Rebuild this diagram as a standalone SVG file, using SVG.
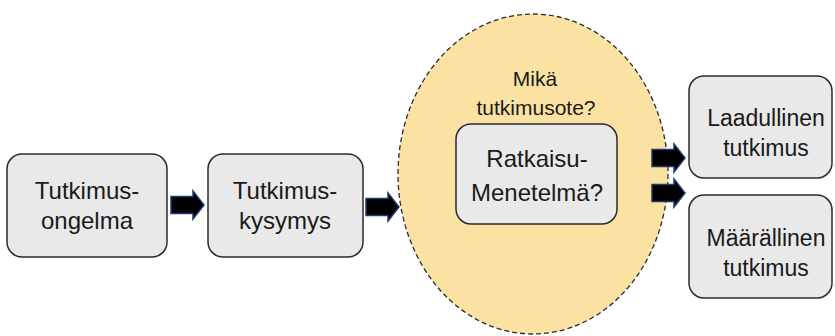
<svg xmlns="http://www.w3.org/2000/svg" width="835" height="336" viewBox="0 0 835 336">
<defs>
<style>
.box{fill:#E9E9E9;stroke:#2b2b2b;stroke-width:1.5}
.t{font-family:"Liberation Sans",Arial,sans-serif;font-size:24px;fill:#1a1a1a;text-anchor:middle}
.s{font-size:21px}
.r{font-size:23px}
.arr{fill:#000;stroke:#1F3A6A;stroke-width:1.5;stroke-linejoin:miter}
</style>
<path id="arrow" d="M0,-8.5 H22 V-14 L33,0 L22,14 V8.5 H0 Z"/>
</defs>
<rect width="835" height="336" fill="#fff"/>
<g id="menetelma-ellipse">
<ellipse cx="533" cy="174" rx="135" ry="160" fill="#FBE2A2" stroke="#2b2b2b" stroke-width="1.3" stroke-dasharray="5,3"/>
<text class="t s" x="535" y="86">Mikä</text>
<text class="t s" x="536" y="115">tutkimusote?</text>
</g>
<g id="tutkimusongelma">
<rect class="box" x="7" y="154" width="160" height="103" rx="15"/>
<text class="t" x="87" y="199">Tutkimus-</text>
<text class="t" x="87" y="229">ongelma</text>
</g>
<g id="tutkimuskysymys">
<rect class="box" x="208" y="154" width="155" height="103" rx="15"/>
<text class="t" x="285" y="199">Tutkimus-</text>
<text class="t" x="285" y="229">kysymys</text>
</g>
<g id="ratkaisumenetelma">
<rect class="box" x="456" y="124" width="161" height="100" rx="15"/>
<text class="t" x="537" y="167">Ratkaisu-</text>
<text class="t" x="537" y="201">Menetelmä?</text>
</g>
<g id="laadullinen">
<rect class="box" x="689" y="76" width="143" height="102" rx="15"/>
<text class="t r" x="766" y="126">Laadullinen</text>
<text class="t r" x="766" y="156">tutkimus</text>
</g>
<g id="maarallinen">
<rect class="box" x="689" y="195" width="143" height="103" rx="15"/>
<text class="t r" x="766" y="246">Määrällinen</text>
<text class="t r" x="766" y="276">tutkimus</text>
</g>
<g id="connectors">
<use href="#arrow" class="arr" transform="translate(171,205)"/>
<use href="#arrow" class="arr" transform="translate(366,207)"/>
<use href="#arrow" class="arr" transform="translate(652,158)"/>
<use href="#arrow" class="arr" transform="translate(652,193)"/>
</g>
</svg>
